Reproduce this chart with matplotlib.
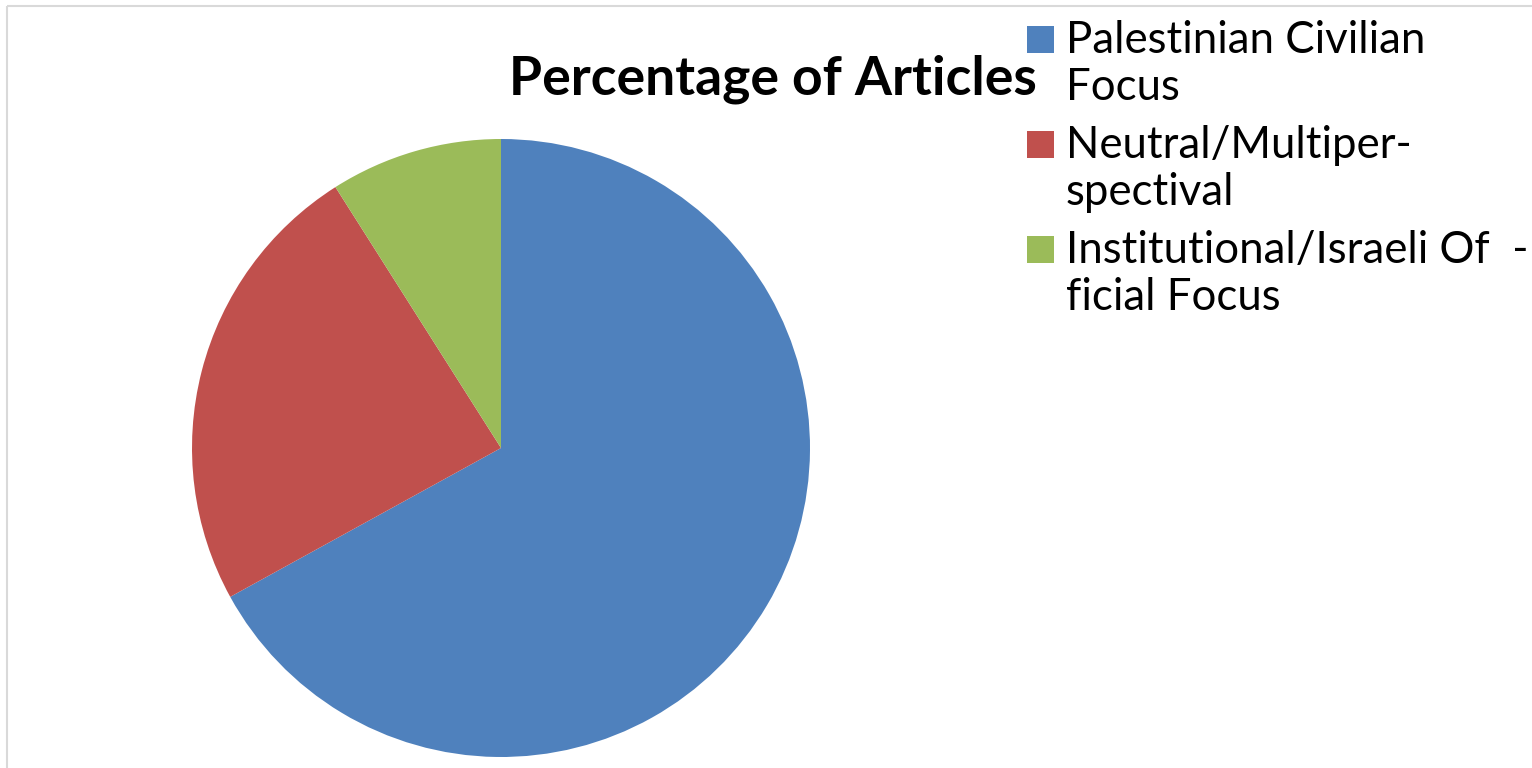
import matplotlib
matplotlib.use("Agg")
import matplotlib.pyplot as plt
from matplotlib.patches import Rectangle

plt.rcParams["font.family"] = ["Lato", "DejaVu Sans"]

# Data
labels = [
    "Palestinian Civilian\nFocus",
    "Neutral/Multiper-\nspectival",
    "Institutional/Israeli Of  -\nficial Focus",
]
shares = [67, 24, 9]
colors = ["#4F81BD", "#C0504D", "#9BBB59"]
title = "Percentage of Articles"

W, H = 1532, 768
fig = plt.figure(figsize=(W / 100, H / 100), dpi=100)
ax = fig.add_axes([0, 0, 1, 1])
ax.set_xlim(0, W)
ax.set_ylim(H, 0)
ax.axis("off")

# pie in its own axes so the y-flip does not mirror it
pax = fig.add_axes([0, 0, 1, 1])
pax.pie(shares, colors=colors, startangle=90, counterclock=False,
        center=(501, H - 448), radius=309, frame=True,
        wedgeprops=dict(linewidth=0))
pax.set_xlim(0, W)
pax.set_ylim(0, H)
pax.set_aspect("equal")
pax.axis("off")

# chart frame (only top and left edges visible)
ax.add_patch(Rectangle((7, 6), W, H, fill=False, edgecolor="#D9D9D9", linewidth=1.5))

ax.text(773, 94, title, fontsize=38.5, fontweight="bold", ha="center", va="baseline")

# legend
for i, (lab, col) in enumerate(zip(labels, colors)):
    y0 = 26 + i * 105
    ax.add_patch(Rectangle((1027, y0), 27, 27, facecolor=col, edgecolor="none"))
    for j, line in enumerate(lab.split("\n")):
        ax.text(1066, y0 + 27 + j * 47, line, fontsize=31.5, ha="left", va="baseline")

fig.savefig("out.png", dpi=100)
